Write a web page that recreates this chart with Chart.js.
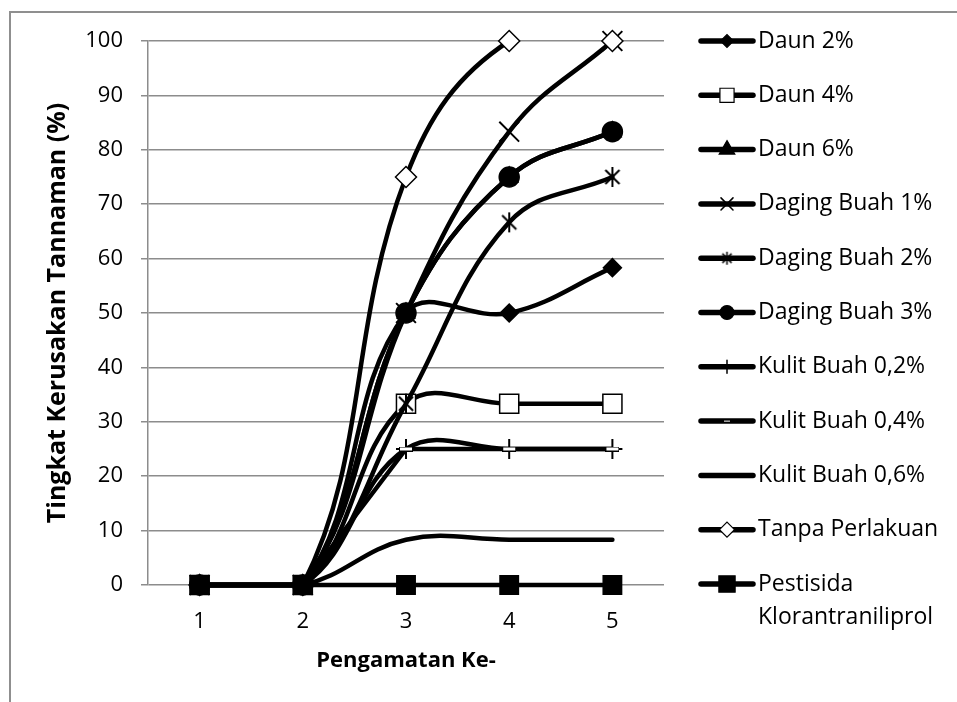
<!DOCTYPE html>
<html><head><meta charset="utf-8">
<script src="https://cdn.jsdelivr.net/npm/chart.js@4.4.0/dist/chart.umd.min.js"></script>
<style>
html,body{margin:0;padding:0;background:#fff;overflow:hidden;}
#wrap{position:relative;width:957px;height:702px;overflow:hidden;}
#frame{position:absolute;left:9px;top:11px;width:960px;height:700px;border-top:2px solid #8f8f8f;border-left:2px solid #8f8f8f;}
canvas{position:absolute;left:0;top:0;}
</style></head><body>
<div id="wrap"><div id="frame"></div><canvas id="c" width="957" height="702"></canvas></div>
<script>
// ---- data ----
const categories = ['1', '2', '3', '4', '5'];
const seriesNames = ['Daun 2%', 'Daun 4%', 'Daun 6%', 'Daging Buah 1%', 'Daging Buah 2%', 'Daging Buah 3%',
  'Kulit Buah 0,2%', 'Kulit Buah 0,4%', 'Kulit Buah 0,6%', 'Tanpa Perlakuan', 'Pestisida Klorantraniliprol'];
const daun2 = [0, 0, 50, 50, 58.33];
const daun4 = [0, 0, 33.33, 33.33, 33.33];
const daun6 = [0, 0, 50, 75, 83.33];
const dagingBuah1 = [0, 0, 50, 83.33, 100];
const dagingBuah2 = [0, 0, 33.33, 66.67, 75];
const dagingBuah3 = [0, 0, 50, 75, 83.33];
const kulitBuah02 = [0, 0, 25, 25, 25];
const kulitBuah04 = [0, 0, 25, 25, 25];
const kulitBuah06 = [0, 0, 8.33, 8.33, 8.33];
const tanpaPerlakuan = [0, 0, 75, 100, 100];
const pestisida = [0, 0, 0, 0, 0];
const yTickMin = 0, yTickMax = 100, yTickStep = 10;
const xTitle = 'Pengamatan Ke-';
const yTitle = 'Tingkat Kerusakan Tannaman (%)';

const seriesValues = [daun2, daun4, daun6, dagingBuah1, dagingBuah2, dagingBuah3,
  kulitBuah02, kulitBuah04, kulitBuah06, tanpaPerlakuan, pestisida];

// ---- custom marker images ----
function makeAsterisk(size, lw) {
  const c = document.createElement('canvas');
  c.width = size; c.height = size;
  const g = c.getContext('2d');
  const r = size / 2 - 1, m = size / 2;
  g.strokeStyle = '#000'; g.lineWidth = lw;
  g.beginPath();
  const d = r * Math.SQRT1_2;
  g.moveTo(m - d, m - d); g.lineTo(m + d, m + d);
  g.moveTo(m + d, m - d); g.lineTo(m - d, m + d);
  g.moveTo(m, m - r); g.lineTo(m, m + r);
  g.stroke();
  return c;
}
function makeDash(w, h) {
  const c = document.createElement('canvas');
  c.width = w; c.height = h;
  const g = c.getContext('2d');
  g.fillStyle = '#000'; g.fillRect(0, 0, w, h);
  g.fillStyle = '#fff'; g.fillRect(1, 1, w - 2, h - 2);
  return c;
}
const asteriskBig = makeAsterisk(22, 2);
const asteriskSmall = makeAsterisk(15, 1.5);
const dashBig = makeDash(14, 5);
const dashSmall = makeDash(8, 3);

// styles per series: [pointStyle, radius, fill, legendStyle, legendRadius]
const markerStyles = [
  ['rectRot', 9, '#000', 'rectRot', 6.5],
  ['rect', 13.5, '#fff', 'rect', 10],
  ['triangle', 10, '#000', 'triangle', 9],
  ['crossRot', 14, '#000', 'crossRot', 8.5],
  [asteriskBig, 11, '#000', asteriskSmall, 7],
  ['circle', 10, '#000', 'circle', 7],
  ['cross', 10, '#000', 'cross', 6.5],
  [dashBig, 7, '#fff', dashSmall, 4],
  [false, 0, '#000', false, 0],
  ['rectRot', 10.5, '#fff', 'rectRot', 7.5],
  ['rect', 13, '#000', 'rect', 11.5],
];
const straightSeries = [7];

const FONT = '"Open Sans", "Liberation Sans", sans-serif';
const n = seriesNames.length;

const datasets = seriesNames.map((name, i) => {
  const st = markerStyles[i];
  const ds = {
    label: name,
    data: seriesValues[i],
    borderColor: '#000',
    borderWidth: 4.5,
    backgroundColor: st[2],
    pointStyle: st[0],
    pointRadius: st[0] === false ? 0 : st[1],
    pointHoverRadius: st[0] === false ? 0 : st[1],
    pointBackgroundColor: st[2],
    pointBorderColor: '#000',
    pointBorderWidth: (st[0] === 'cross' || st[0] === 'crossRot') ? 2 : 1.5,
    tension: straightSeries.includes(i) ? 0 : 0.4,
    fill: false,
    clip: false,
    order: n - i,
    borderCapStyle: 'round',
    borderJoinStyle: 'round'
  };
  if (name === 'Tanpa Perlakuan') {
    ds.segment = { borderColor: ctx => ctx.p0DataIndex === 3 ? 'rgba(0,0,0,0)' : undefined };
  }
  return ds;
});

const legendPlugin = {
  id: 'sideLegend',
  afterDraw(chart) {
    const ctx = chart.ctx;
    const x0 = 701, x1 = 753, tx = 758;
    const y0 = 41, dy = 54.3;
    ctx.save();
    chart.data.datasets.forEach((ds, i) => {
      const y = y0 + i * dy;
      ctx.strokeStyle = '#000';
      ctx.lineWidth = 5.5;
      ctx.lineCap = 'round';
      ctx.beginPath(); ctx.moveTo(x0, y); ctx.lineTo(x1, y); ctx.stroke();
      const st = markerStyles[i];
      if (st[3] !== false) {
        ctx.fillStyle = st[2];
        ctx.strokeStyle = '#000';
        ctx.lineWidth = (st[3] === 'cross' || st[3] === 'crossRot') ? 1.5 : 1.2;
        Chart.helpers.drawPoint(ctx, { pointStyle: st[3], radius: st[4], rotation: 0, borderWidth: ctx.lineWidth }, (x0 + x1) / 2, y);
      }
      ctx.fillStyle = '#000';
      ctx.font = '23px ' + FONT;
      ctx.textBaseline = 'middle';
      ctx.textAlign = 'left';
      const parts = ds.label === 'Pestisida Klorantraniliprol' ? ['Pestisida', 'Klorantraniliprol'] : [ds.label];
      parts.forEach((p, k) => ctx.fillText(p, tx, y + k * 33));
    });
    ctx.restore();
  }
};

new Chart(document.getElementById('c'), {
  type: 'line',
  data: { labels: categories, datasets },
  plugins: [legendPlugin],
  options: {
    responsive: false,
    animation: false,
    devicePixelRatio: 1,
    layout: { padding: { left: 0, top: 41, right: 293, bottom: 0 } },
    plugins: { legend: { display: false }, tooltip: { enabled: false } },
    scales: {
      x: {
        type: 'category',
        offset: true,
        grid: { display: false, drawTicks: false },
        border: { display: false },
        ticks: { color: '#000', font: { family: FONT, size: 22 }, padding: 24 },
        title: { display: true, text: xTitle, color: '#000', font: { family: FONT, size: 22, weight: 'bold' }, padding: { top: 0, bottom: 28 } },
        afterFit(s) { s.height = 117; }
      },
      y: {
        min: yTickMin, max: yTickMax,
        ticks: { stepSize: yTickStep, color: '#000', font: { family: FONT, size: 22 }, padding: 18 },
        grid: { color: '#8c8c8c', lineWidth: 1.5, tickLength: 7, drawTicks: true },
        border: { color: '#8c8c8c', width: 1.5 },
        title: { display: true, text: yTitle, color: '#000', font: { family: FONT, size: 25, weight: 'bold' }, padding: { top: 43, bottom: 0 } },
        afterFit(s) { s.width = 148; }
      }
    }
  }
});
</script>
</body></html>
